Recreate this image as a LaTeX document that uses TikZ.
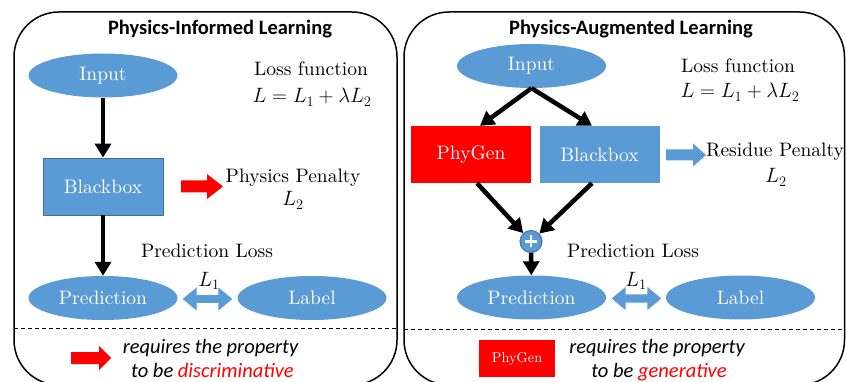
\documentclass[tikz,border=0pt]{standalone}
\usepackage{fontspec}
\newfontfamily\serfont{lmroman10-regular.otf}
\newfontfamily\calfont{Carlito}
\usetikzlibrary{shapes.geometric,arrows.meta}
\definecolor{pblue}{HTML}{5B9BD5}
\definecolor{pborder}{HTML}{41719C}
\definecolor{pred}{HTML}{FF0000}
\newcommand\mybarrow[6]{\begin{scope}[shift={#2}]\fill[#1] (-#3,-#5) -- ({#3-#4},-#5) -- ({#3-#4},-#6) -- (#3,0) -- ({#3-#4},#6) -- ({#3-#4},#5) -- (-#3,#5) -- cycle;\end{scope}}
\newcommand\mydarrow[6]{\begin{scope}[shift={#2}]\filldraw[#1] (-#3,0) -- ({-#3+#4},-#6) -- ({-#3+#4},-#5) -- ({#3-#4},-#5) -- ({#3-#4},-#6) -- (#3,0) -- ({#3-#4},#6) -- ({#3-#4},#5) -- ({-#3+#4},#5) -- ({-#3+#4},#6) -- cycle;\end{scope}}
\begin{document}
\begin{tikzpicture}[x=1pt,y=-1pt,
 every node/.style={inner sep=0pt, font=\serfont\fontsize{19.5}{23}\selectfont},
 ell/.style={ellipse, fill=pblue, minimum width=149pt, minimum height=44pt, text=white},
 bluebox/.style={rectangle, fill=pblue, minimum width=120pt, minimum height=57pt, text=white},
 redbox/.style={rectangle, fill=pred, minimum width=120pt, minimum height=57pt, text=white},
 arr/.style={line width=4.5pt, -{Triangle[width=16pt,length=14pt]}},
 panel/.style={draw, line width=1.5pt, rounded corners=45pt},
 sep/.style={line width=1pt, dash pattern=on 4pt off 3pt},
 titletext/.style={font=\calfont\bfseries\fontsize{20.5}{24}\selectfont, anchor=base},
 lbl/.style={anchor=base},
 note/.style={font=\calfont\itshape\fontsize{20.5}{24}\selectfont, anchor=base},
 plusnode/.style={circle, fill=pblue, draw=pborder, line width=1pt, minimum size=22pt,
   path picture={\draw[white, line width=2.6pt] ([xshift=-6pt]path picture bounding box.center) -- ([xshift=6pt]path picture bounding box.center);
                 \draw[white, line width=2.6pt] ([yshift=-6pt]path picture bounding box.center) -- ([yshift=6pt]path picture bounding box.center);}}
]
\useasboundingbox (0,0) rectangle (846,382);
\fill[white] (0,0) rectangle (846,382);
% panels
\draw[panel] (14,12) rectangle (397,385);
\draw[panel] (404,12) rectangle (844.5,385);
\draw[sep] (14,328) -- (397,328);
\draw[sep] (404,329) -- (845,329);

% ===== left panel =====
\node[titletext] (t1) at (220,34.5) {Physics-Informed Learning};
\node[ell] (in1) at (103,75.5) {Input};
\node[bluebox, draw=pborder, line width=0.8pt] (bb1) at (103,186.5) {Blackbox};
\node[ell] (pr1) at (103,298) {Prediction};
\node[ell] (lb1) at (312,298) {Label};
\node[lbl] (lf1) at (311,76) {Loss function};
\node[lbl] (eq1) at (312,103) {$L = L_1 + \lambda L_2$};
\node[lbl] (pp1) at (293,183) {Physics Penalty};
\node[lbl] (pl2a) at (293,206) {$L_2$};
\node[lbl] (pls1) at (207,258) {Prediction Loss};
\node[lbl] (l1a) at (209,286) {$L_1$};
\draw[arr] (in1) -- (bb1);
\draw[arr] (bb1) -- (pr1);
\mybarrow{pred}{(202,186.5)}{21}{16}{6}{12.5}
\mydarrow{fill=pblue, draw=white, line width=0.6pt}{(207.5,299)}{25.5}{15}{4.5}{12.5}
\mybarrow{pred}{(91,358)}{20}{12}{6}{12}
\node[note] (n1a) at (210.5,353) {requires the property};
\node[note] (n1b) at (212.5,377) {to be {\color{pred}discriminative}};

% ===== right panel =====
\node[titletext] (t2) at (631,34.5) {Physics-Augmented Learning};
\node[ell] (in2) at (531.5,66) {Input};
\node[redbox] (pg) at (471,154.5) {PhyGen};
\node[bluebox] (bb2) at (599.5,154.5) {Blackbox};
\node[plusnode] (pl) at (531,241.5) {};
\node[ell] (pr2) at (531.5,297.5) {Prediction};
\node[ell] (lb2) at (740.5,297.5) {Label};
\node[lbl] (lf2) at (738,73) {Loss function};
\node[lbl] (eq2) at (740,98) {$L = L_1 + \lambda L_2$};
\node[lbl] (rp2) at (775,157) {Residue Penalty};
\node[lbl] (l2b) at (776,183) {$L_2$};
\node[lbl] (pls2) at (633,258) {Prediction Loss};
\node[lbl] (l1b) at (636,286) {$L_1$};
\draw[arr] (in2.south) -- ([xshift=9pt]pg.north);
\draw[arr] (in2.south) -- ([xshift=-7.5pt]bb2.north);
\draw[arr] ([xshift=6pt]pg.south) -- (pl);
\draw[arr] ([xshift=-7.5pt]bb2.south) -- (pl);
\draw[arr] (pl) -- (pr2);
\mybarrow{pblue}{(686,155)}{20}{13}{5.5}{11.5}
\mydarrow{fill=pblue, draw=white, line width=0.6pt}{(636.5,298.5)}{25.5}{15}{4.5}{12.5}
\node[rectangle, fill=pred, minimum width=76pt, minimum height=37pt, text=white, font=\serfont\fontsize{14.3}{17}\selectfont] (pgs) at (517,358.5) {PhyGen};
\node[note] (n2a) at (657,353) {requires the property};
\node[note] (n2b) at (659,377) {to be {\color{pred}generative}};
\end{tikzpicture}
\end{document}
